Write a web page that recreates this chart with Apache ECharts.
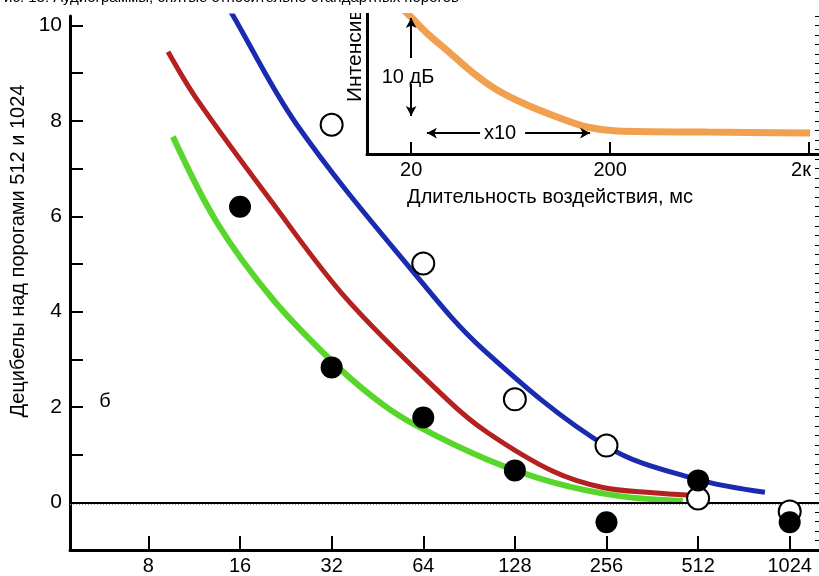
<!DOCTYPE html>
<html>
<head>
<meta charset="utf-8">
<script src="https://cdn.jsdelivr.net/npm/echarts@6/dist/echarts.min.js"></script>
<style>html,body{margin:0;padding:0;background:#fff}#c{width:819px;height:576px}</style>
</head>
<body>
<div id="c"></div>
<script>
// ---- data ----
const xTicksMain = [8, 16, 32, 64, 128, 256, 512, 1024];
const yTicksMain = [0, 1, 2, 3, 4, 5, 6, 7, 8, 9, 10];
const yLabelsMain = [0, 2, 4, 6, 8, 10];
const blueCurve = [[13.24,10.86],[15.05,10.25],[24.6,7.92],[59.2,4.84],[100.6,3.21],[257,1.17],[508,0.48],[849,0.21]];
const redCurve = [[9.28,9.45],[11.55,8.45],[20.07,6.35],[35.9,4.26],[76.6,2.16],[103.7,1.47],[170.8,0.65],[249,0.31],[364,0.2],[482,0.15]];
const greenCurve = [[9.63,7.67],[13.43,5.87],[20.5,4.26],[33.3,2.86],[47.2,2.05],[62.4,1.57],[103.6,0.90],[170.8,0.42],[283,0.13],[456,0.03]];
const filledPoints = [[16,6.2],[32,2.83],[64,1.78],[128,0.67],[256,-0.42],[512,0.46],[1024,-0.42]];
const openPoints = [[32,7.92],[64,5.01],[128,2.16],[256,1.19],[512,0.08],[1024,-0.19]];
const insetTicks = [20, 200, 2000];
const orangeCurve = [[17.6,15.1],[20.2,13.88],[24.0,12.35],[31.4,10.31],[41.0,8.27],[54.1,6.53],[76.5,5.0],[108.3,3.78],[153.2,2.76],[216.9,2.35],[614,2.24],[2024,2.14]];

const FONT = '"Liberation Sans",Arial,sans-serif';
const chart = echarts.init(document.getElementById('c'), null, {renderer: 'canvas'});
const SMOOTH = 0.35;

const option = {
  animation: false,
  backgroundColor: '#fff',
  grid: [
    {left: 70, right: 0, top: 16, bottom: 26},
    {left: 367, right: 0, top: 13, bottom: 422}
  ],
  xAxis: [
    {
      gridIndex: 0, type: 'log', logBase: 2, min: 4.42, max: 1278,
      axisLine: {onZero: false, lineStyle: {color: '#000', width: 3}},
      axisTick: {inside: true, length: 14, lineStyle: {color: '#000', width: 2}, customValues: xTicksMain},
      axisLabel: {customValues: xTicksMain, color: '#000', fontSize: 20, fontFamily: FONT, margin: 6,
        formatter: v => String(Math.round(v))},
      splitLine: {show: false}, minorTick: {show: false}
    },
    {
      gridIndex: 1, type: 'log', logBase: 10, min: 12.0, max: 2244,
      axisLine: {onZero: false, lineStyle: {color: '#000', width: 3}},
      axisTick: {inside: true, length: 12, lineStyle: {color: '#000', width: 2}, customValues: insetTicks},
      axisLabel: {customValues: insetTicks, color: '#000', fontSize: 20, fontFamily: FONT, margin: 6,
        formatter: v => v >= 1000 ? '{k|' + Math.round(v / 1000) + 'к}' : String(Math.round(v)),
        rich: {k: {color: '#000', fontSize: 20, fontFamily: FONT, padding: [0, 16, 0, 0]}}},
      splitLine: {show: false}
    }
  ],
  yAxis: [
    {
      gridIndex: 0, type: 'value', min: -1, max: 10.2,
      axisLine: {show: true, onZero: false, lineStyle: {color: '#000', width: 3}},
      axisTick: {show: true, inside: true, length: 13, lineStyle: {color: '#000', width: 2}, customValues: yTicksMain},
      axisLabel: {customValues: yLabelsMain, color: '#000', fontSize: 21, fontFamily: FONT, margin: 8},
      splitLine: {show: false}
    },
    {
      gridIndex: 0, type: 'value', min: -1, max: 10.2, interval: 0.2,
      axisLine: {show: false, onZero: false},
      axisTick: {show: true, inside: true, length: 4, lineStyle: {color: '#000', width: 1}},
      axisLabel: {show: false},
      splitLine: {show: false}
    },
    {
      gridIndex: 1, type: 'value', min: 0, max: 14.4,
      axisLine: {show: true, onZero: false, lineStyle: {color: '#000', width: 3}},
      axisTick: {show: false}, axisLabel: {show: false}, splitLine: {show: false}
    }
  ],
  series: [
    {
      type: 'line', xAxisIndex: 0, yAxisIndex: 0, data: greenCurve, smooth: SMOOTH, symbol: 'none',
      lineStyle: {color: '#58d62c', width: 6}, z: 3,
      markLine: {
        silent: true, symbol: 'none', label: {show: false},
        data: [
          {yAxis: 0, lineStyle: {color: '#000', width: 2, type: 'solid'}},
          {yAxis: -0.05, lineStyle: {color: '#999', width: 1, type: [1, 2]}}
        ]
      }
    },
    {type: 'line', xAxisIndex: 0, yAxisIndex: 0, data: redCurve, smooth: SMOOTH, symbol: 'none',
      lineStyle: {color: '#b52020', width: 5}, z: 4},
    {type: 'line', xAxisIndex: 0, yAxisIndex: 0, data: blueCurve, smooth: SMOOTH, symbol: 'none',
      lineStyle: {color: '#1b2bb0', width: 5}, z: 5},
    {type: 'scatter', xAxisIndex: 0, yAxisIndex: 0, data: openPoints, symbol: 'circle', symbolSize: 22,
      itemStyle: {color: '#fff', borderColor: '#000', borderWidth: 2, opacity: 1}, z: 6},
    {type: 'scatter', xAxisIndex: 0, yAxisIndex: 0, data: filledPoints, symbol: 'circle', symbolSize: 22,
      itemStyle: {color: '#000', opacity: 1}, z: 7},
    {
      type: 'line', xAxisIndex: 1, yAxisIndex: 2, data: orangeCurve, smooth: SMOOTH, symbol: 'none',
      lineStyle: {color: '#f0a04e', width: 7}, z: 3,
      markLine: {
        silent: true, symbol: ['none', 'arrow'], symbolSize: [8, 10], label: {show: false},
        lineStyle: {color: '#000', width: 2, type: 'solid'},
        data: [
          [{coord: [20, 9.8]}, {coord: [20, 13.9]}],
          [{coord: [20, 7.14]}, {coord: [20, 3.88]}],
          [{coord: [44.4, 2.14]}, {coord: [24.0, 2.14]}],
          [{coord: [74.8, 2.14]}, {coord: [158.7, 2.14]}]
        ]
      }
    }
  ],
  graphic: [
    {type: 'text', x: 18, y: 251, rotation: Math.PI / 2,
      style: {text: 'Децибелы над порогами 512 и 1024', font: '20px ' + FONT, fill: '#000', textAlign: 'center', textVerticalAlign: 'middle'}},
    {type: 'text', x: 105, y: 401,
      style: {text: 'б', font: '20px ' + FONT, fill: '#000', textAlign: 'center', textVerticalAlign: 'middle'}},
    {type: 'text', x: 355, y: 102, rotation: Math.PI / 2,
      style: {text: 'Интенсивность', font: '21px ' + FONT, fill: '#000', textAlign: 'left', textVerticalAlign: 'middle'}},
    {type: 'text', x: 408, y: 77,
      style: {text: '10 дБ', font: '20px ' + FONT, fill: '#000', textAlign: 'center', textVerticalAlign: 'middle'}},
    {type: 'text', x: 500, y: 133,
      style: {text: 'x10', font: '20px ' + FONT, fill: '#000', textAlign: 'center', textVerticalAlign: 'middle'}},
    {type: 'text', x: 550, y: 197,
      style: {text: 'Длительность воздействия, мс', font: '20px ' + FONT, fill: '#000', textAlign: 'center', textVerticalAlign: 'middle'}},
    {type: 'rect', shape: {x: 0, y: 0, width: 819, height: 13}, style: {fill: '#fff'}, z: 100},
    {type: 'text', x: -6, y: 5, z: 101,
      style: {text: 'Рис. 13. Аудиограммы, снятые относительно стандартных порогов', font: '15px ' + FONT, fill: '#000', textAlign: 'left', textVerticalAlign: 'bottom'}}
  ]
};
chart.setOption(option);
</script>
</body>
</html>
